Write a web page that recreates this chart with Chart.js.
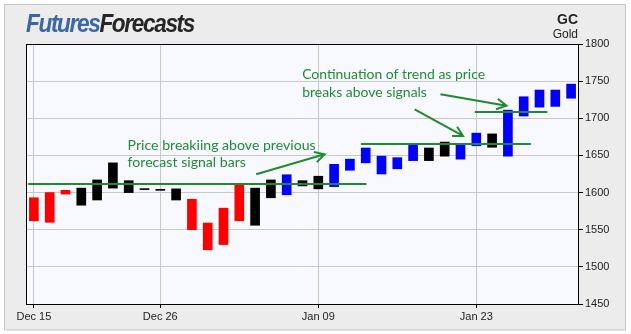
<!DOCTYPE html>
<html>
<head>
<meta charset="utf-8">
<script src="https://cdn.jsdelivr.net/npm/chart.js@4"></script>
<style>
  html, body { margin: 0; padding: 0; background: #fff; }
  canvas { display: block; }
</style>
</head>
<body>
<canvas id="goldChart" width="631" height="334"></canvas>
<script>
  // daily sessions shown on the chart
  const dates = ['Dec 15', 'Dec 16', 'Dec 19', 'Dec 20', 'Dec 21', 'Dec 22', 'Dec 23', 'Dec 25',
    'Dec 26', 'Dec 27', 'Dec 28', 'Dec 29', 'Dec 30', 'Jan 02', 'Jan 03', 'Jan 04', 'Jan 05', 'Jan 06',
    'Jan 09', 'Jan 10', 'Jan 11', 'Jan 12', 'Jan 13', 'Jan 16', 'Jan 17', 'Jan 18', 'Jan 19', 'Jan 20',
    'Jan 23', 'Jan 24', 'Jan 25', 'Jan 26', 'Jan 27', 'Jan 30', 'Jan 31'];
  const tickDates = ['Dec 15', 'Dec 26', 'Jan 09', 'Jan 23'];

  // bar bodies (bottom / top)
  const lows = [1562, 1560, 1598, 1583, 1590, 1606, 1600, 1604, 1603, 1590, 1550, 1523, 1530, 1562,
    1556, 1593, 1597, 1609, 1605, 1608, 1630, 1640, 1625, 1632, 1643, 1643, 1649, 1645, 1663, 1661,
    1649, 1703, 1715, 1716, 1727];
  const highs = [1593, 1600, 1603, 1606, 1617, 1640, 1616, 1605.3, 1604.4, 1605, 1591, 1559, 1579,
    1611, 1606, 1617, 1624, 1616, 1622, 1638, 1645, 1660, 1649, 1647, 1664, 1660, 1668, 1664, 1680,
    1679, 1711, 1729, 1738, 1738, 1746];
  const barTypes = ['down', 'down', 'down', 'flat', 'flat', 'flat', 'flat', 'flat', 'flat', 'flat',
    'down', 'down', 'down', 'down', 'flat', 'flat', 'up', 'flat', 'flat', 'up', 'up', 'up', 'up', 'up',
    'up', 'flat', 'flat', 'up', 'up', 'flat', 'up', 'up', 'up', 'up', 'up'];

  // forecast signal levels (price, first and last session index)
  const signalLevels = [1611, 1666, 1709];
  const signalStart = [-0.36, 20.7, 27.9];
  const signalEnd = [21.05, 31.45, 32.5];

  const yMin = 1450;
  const yMax = 1800;
  const yStep = 50;

  const typeColors = { down: '#ff0000', flat: '#000000', up: '#0000ff' };
  const green = '#1f8a2f';

  // notes anchored in data units: [session index, price]
  const notes = [
    { lines: ['Price breakiing above previous', 'forecast signal bars'], at: [5.93, 1657.3], next: 1634.8, fit: 188 },
    { lines: ['Continuation of trend as price', 'breaks above signals'], at: [16.98, 1752.5], next: 1729.1, fit: 183 }
  ];
  const arrows = [
    [14.07, 1624.6, 18.4, 1651.5],
    [24.1, 1712.1, 27.16, 1676.2],
    [25.73, 1732.3, 29.91, 1717]
  ];

  const framePlugin = {
    id: 'frame',
    beforeDraw(chart) {
      const { ctx, chartArea: a } = chart;
      ctx.save();
      ctx.fillStyle = '#ffffff';
      ctx.fillRect(0, 0, chart.width, chart.height);
      ctx.fillStyle = '#ececec';
      ctx.fillRect(4, 4, 622, 326);
      ctx.strokeStyle = '#c6c6c6';
      ctx.lineWidth = 1;
      ctx.strokeRect(4.5, 4.5, 621, 325.5);
      ctx.fillStyle = '#f8f9ff';
      ctx.fillRect(a.left, a.top, a.right - a.left, a.bottom - a.top);
      ctx.restore();
    },
    afterDraw(chart) {
      const { ctx, chartArea: a } = chart;
      ctx.save();
      ctx.strokeStyle = '#000';
      ctx.lineWidth = 1;
      ctx.strokeRect(a.left + 0.5, a.top + 0.5, a.right - a.left - 1, a.bottom - a.top);

      // logo
      ctx.font = 'italic bold 25px "Liberation Sans"';
      ctx.letterSpacing = '-1.5px';
      ctx.textBaseline = 'alphabetic';
      const w1 = ctx.measureText('Futures').width;
      const w2 = ctx.measureText('Forecasts').width;
      ctx.save();
      ctx.translate(26, 32);
      ctx.scale(168 / (w1 + w2), 1);
      ctx.fillStyle = '#3a67a6';
      ctx.fillText('Futures', 0, 0);
      ctx.fillStyle = '#262626';
      ctx.fillText('Forecasts', w1, 0);
      ctx.restore();
      ctx.letterSpacing = '0px';

      // symbol
      ctx.textAlign = 'right';
      ctx.fillStyle = '#222';
      ctx.font = 'bold 14px "Liberation Sans"';
      ctx.fillText('GC', 578, 24);
      ctx.font = '12px "Liberation Sans"';
      ctx.fillText('Gold', 578, 38);
      ctx.restore();
    }
  };

  const notesPlugin = {
    id: 'notes',
    afterDatasetsDraw(chart) {
      const { ctx } = chart;
      const xs = chart.scales.x;
      const ys = chart.scales.y;
      ctx.save();
      ctx.strokeStyle = green;
      ctx.lineWidth = 2;

      signalLevels.forEach((lvl, i) => {
        const y = Math.round(ys.getPixelForValue(lvl));
        ctx.beginPath();
        ctx.moveTo(xs.getPixelForValue(signalStart[i]), y);
        ctx.lineTo(xs.getPixelForValue(signalEnd[i]), y);
        ctx.stroke();
      });

      arrows.forEach(([x0, v0, x1, v1]) => {
        const ax = xs.getPixelForValue(x0), ay = ys.getPixelForValue(v0);
        const bx = xs.getPixelForValue(x1), by = ys.getPixelForValue(v1);
        const ang = Math.atan2(by - ay, bx - ax);
        ctx.beginPath();
        ctx.moveTo(ax, ay);
        ctx.lineTo(bx, by);
        ctx.moveTo(bx - 11 * Math.cos(ang - 0.5), by - 11 * Math.sin(ang - 0.5));
        ctx.lineTo(bx, by);
        ctx.lineTo(bx - 11 * Math.cos(ang + 0.5), by - 11 * Math.sin(ang + 0.5));
        ctx.stroke();
      });

      ctx.fillStyle = '#238b35';
      ctx.textAlign = 'left';
      ctx.textBaseline = 'alphabetic';
      notes.forEach(n => {
        ctx.font = '20px Lato';
        const size = 20 * n.fit / ctx.measureText(n.lines[0]).width;
        ctx.font = size.toFixed(2) + 'px Lato';
        const x = xs.getPixelForValue(n.at[0]);
        ctx.fillText(n.lines[0], x, ys.getPixelForValue(n.at[1]));
        ctx.fillText(n.lines[1], x, ys.getPixelForValue(n.next));
      });
      ctx.restore();
    }
  };

  const tickFont = { family: '"Liberation Sans"', size: 11 };

  new Chart(document.getElementById('goldChart'), {
    type: 'bar',
    data: {
      labels: dates,
      datasets: [{
        data: lows.map((lo, i) => [lo, highs[i]]),
        backgroundColor: barTypes.map(t => typeColors[t]),
        borderWidth: 0,
        barThickness: 9
      }]
    },
    options: {
      responsive: false,
      animation: false,
      layout: { padding: { left: 26, top: 44, right: 0, bottom: 0 } },
      plugins: {
        legend: { display: false },
        tooltip: { enabled: false }
      },
      scales: {
        x: {
          offset: true,
          border: { display: false },
          grid: { offset: false, color: '#c8c8c8', tickColor: '#000', tickLength: 4 },
          ticks: {
            autoSkip: false,
            maxRotation: 0,
            padding: 2,
            color: '#222',
            font: tickFont,
            callback: function (value) {
              const label = this.getLabelForValue(value);
              return tickDates.includes(label) ? label : null;
            }
          },
          afterFit(scale) { scale.height = 30; }
        },
        y: {
          position: 'right',
          min: yMin,
          max: yMax,
          border: { display: false },
          grid: { color: '#c8c8c8', tickColor: '#000', tickLength: 4 },
          ticks: {
            stepSize: yStep,
            padding: 2,
            color: '#222',
            font: tickFont,
            callback: value => String(value)
          },
          afterFit(scale) { scale.width = 52; }
        }
      }
    },
    plugins: [framePlugin, notesPlugin]
  });
</script>
</body>
</html>
